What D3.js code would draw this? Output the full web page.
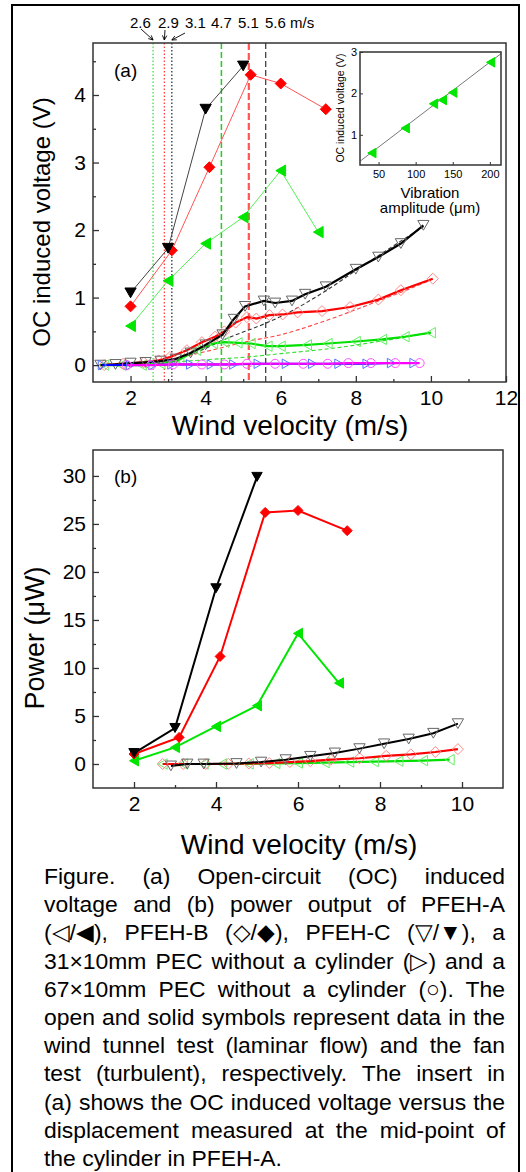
<!DOCTYPE html>
<html>
<head>
<meta charset="utf-8">
<script src="https://cdn.jsdelivr.net/npm/d3@7"></script>
<style>
body{margin:0;overflow:hidden;background:#fff;}
text{font-family:"Liberation Sans",Arial,sans-serif;fill:#000;}
</style>
</head>
<body>
<svg id="fig" width="526" height="1172"></svg>
<script>
// ---------- data ----------
// fan test (turbulent), filled symbols; x = wind velocity (m/s)
var fanA_x = [2, 3, 4, 5, 6, 7];            // PFEH-A  ◀
var fanA_v = [0.58, 1.25, 1.80, 2.19, 2.88, 1.97];
var fanA_p = [0.34, 1.73, 3.91, 6.07, 13.6, 8.43];
var fanB_x = [2, 3.1, 4.1, 5.2, 6, 7.2];     // PFEH-B  ◆
var fanB_v = [0.87, 1.70, 2.93, 4.30, 4.17, 3.79];
var fanB_p = [1.04, 2.77, 11.2, 26.2, 26.4, 24.3];
var fanC_x = [2, 3, 4, 5];                   // PFEH-C  ▼
var fanC_v = [1.07, 1.73, 3.79, 4.43];
var fanC_p = [1.14, 3.75, 18.3, 29.9];

// wind tunnel test (laminar), open symbols, panel (a)
var tunC_x = [1.2, 1.6, 2.0, 2.4, 2.8, 3.2, 3.6, 4.0, 4.45, 4.75, 5.05, 5.55, 5.85, 6.3, 6.65, 7.2, 8.0, 8.6, 9.2, 9.8];
var tunC_v = [0.0, 0.01, 0.03, 0.04, 0.06, 0.09, 0.18, 0.3, 0.45, 0.68, 0.87, 0.95, 0.92, 0.95, 1.05, 1.16, 1.42, 1.6, 1.8, 2.07];
var tunB_x = [1.3, 1.8, 2.35, 2.75, 3.05, 3.5, 3.9, 4.25, 4.5, 4.8, 5.1, 5.35, 5.7, 6.05, 6.45, 7.1, 7.85, 8.6, 9.2, 10.05];
var tunB_v = [0.0, 0.02, 0.04, 0.07, 0.12, 0.22, 0.34, 0.42, 0.5, 0.63, 0.71, 0.69, 0.74, 0.75, 0.78, 0.8, 0.86, 0.97, 1.11, 1.28];
var tunA_x = [1.3, 1.75, 2.3, 2.8, 3.3, 3.75, 4.2, 4.5, 4.85, 5.2, 5.65, 6.0, 6.7, 7.25, 8.0, 8.7, 9.3, 10.0];
var tunA_v = [0.0, 0.0, 0.0, 0.02, 0.08, 0.22, 0.32, 0.34, 0.33, 0.32, 0.28, 0.28, 0.30, 0.32, 0.35, 0.38, 0.42, 0.48];
var pec31_x = [1.25, 2.0, 2.6, 3.1, 3.6, 4.15, 4.75, 5.4, 6.15, 6.85, 7.55, 8.3, 8.95, 9.55];
var pec31_v = [0, 0, 0, 0.01, 0.01, 0.01, 0.01, 0.02, 0.02, 0.02, 0.02, 0.02, 0.03, 0.03];
var pec67_x = [1.9, 2.55, 3.13, 3.9, 4.5, 5.1, 5.85, 6.6, 7.25, 7.8, 8.4, 9.05, 9.7];
var pec67_v = [0, 0, 0.01, 0.01, 0.01, 0.02, 0.02, 0.02, 0.02, 0.03, 0.03, 0.03, 0.03];

// dashed fitted curves in panel (a)
var fitC_x = [1.3, 2, 3, 3.8, 4.5, 5.6, 6, 7.2, 8, 8.6, 9.8];
var fitC_v = [0, 0.02, 0.07, 0.2, 0.38, 0.62, 0.72, 1.1, 1.4, 1.62, 2.05];
var fitB_x = [1.3, 2, 3, 4, 5.1, 6, 7, 7.9, 8.6, 9.3, 10];
var fitB_v = [0, 0.02, 0.08, 0.2, 0.35, 0.45, 0.62, 0.8, 0.95, 1.1, 1.26];
var fitA_x = [1.3, 2, 3, 4, 5.1, 6, 7.4, 8.6, 9.5, 10];
var fitA_v = [0, 0.01, 0.04, 0.08, 0.12, 0.17, 0.25, 0.35, 0.43, 0.48];

// wind tunnel test, open symbols, panel (b) power (uW)
var tunC_bx = [2.9, 3.3, 3.7, 4.5, 5.1, 5.7, 6.3, 6.9, 7.5, 8.1, 8.7, 9.3, 9.9];
var tunC_p  = [-0.2, 0, 0, 0.05, 0.2, 0.45, 0.8, 1.15, 1.6, 2.1, 2.6, 3.2, 4.2];
var tunB_bx = [2.7, 3.2, 3.75, 4.3, 4.8, 5.3, 5.8, 6.3, 6.8, 7.5, 8.15, 8.75, 9.35, 9.9];
var tunB_p  = [0, 0, 0, 0.02, 0.05, 0.1, 0.2, 0.3, 0.45, 0.6, 0.85, 1.0, 1.25, 1.55];
var tunA_bx = [2.7, 3.2, 3.7, 4.15, 4.8, 5.45, 6.0, 6.65, 7.25, 7.85, 8.45, 9.05, 9.7];
var tunA_p  = [0, 0, 0, 0, 0.02, 0.05, 0.1, 0.15, 0.2, 0.25, 0.3, 0.35, 0.45];

// inset: OC voltage vs vibration amplitude (um)
var insetAmp = [41, 86, 124, 136, 150, 201];
var insetV   = [0.56, 1.16, 1.75, 1.84, 2.02, 2.75];
var insetFitAmp = [25, 215];
var insetFitV   = [0.36, 2.96];

// critical velocities marked by vertical lines
var critVel    = [2.6, 2.9, 3.1, 4.42, 5.15, 5.6];
var critLabels = ['2.6', '2.9', '3.1', '4.7', '5.1', '5.6 m/s'];

// ticks
var xTicksA = [2, 4, 6, 8, 10, 12], xMinorA = [3, 5, 7, 9, 11];
var yTicksA = [0, 1, 2, 3, 4], yMinorA = [0.5, 1.5, 2.5, 3.5, 4.5];
var xTicksB = [2, 4, 6, 8, 10], xMinorB = [3, 5, 7, 9];
var yTicksB = [0, 5, 10, 15, 20, 25, 30], yMinorB = [2.5, 7.5, 12.5, 17.5, 22.5, 27.5];
var xTicksI = [50, 100, 150, 200], yTicksI = [1, 2, 3];

var caption = [
  'Figure. (a) Open-circuit (OC) induced',
  'voltage and (b) power output of PFEH-A',
  '(\u25C1/\u25C0), PFEH-B (\u25C7/\u25C6), PFEH-C (\u25BD/\u25BC), a',
  '31\u00D710mm PEC without a cylinder (\u25B7) and a',
  '67\u00D710mm PEC without a cylinder (\u25CB). The',
  'open and solid symbols represent data in the',
  'wind tunnel test (laminar flow) and the fan',
  'test (turbulent), respectively. The insert in',
  '(a) shows the OC induced voltage versus the',
  'displacement measured at the mid-point of',
  'the cylinder in PFEH-A.'
];

// ---------- drawing ----------
var svg = d3.select('#fig');

// outer frame
svg.append('rect').attr('x', 12).attr('y', 5).attr('width', 507).attr('height', 1200)
  .attr('fill', 'none').attr('stroke', '#000').attr('stroke-width', 2);

var xA = d3.scaleLinear().domain([1, 12]).range([93, 506]);
var yA = d3.scaleLinear().domain([-0.25, 4.77]).range([382, 43]);
var xB = d3.scaleLinear().domain([1, 11]).range([93, 503]);
var yB = d3.scaleLinear().domain([-2.5, 32.7]).range([788, 450]);
var xI = d3.scaleLinear().domain([25, 215]).range([360, 501]);
var yI = d3.scaleLinear().domain([0.27, 3]).range([165, 52]);

function sym(type, r) {
  if (type === 'circle') return d3.symbol(d3.symbolCircle, Math.PI * r * r)();
  if (type === 'diamond') return 'M0,' + (-r) + 'L' + r + ',0L0,' + r + 'L' + (-r) + ',0Z';
  var a0 = {down: 90, left: 180, right: 0}[type];
  var pts = [0, 120, 240].map(function(d) {
    var a = (a0 + d) * Math.PI / 180;
    var px = r * Math.cos(a), py = r * Math.sin(a);
    if (type === 'down') py -= 0.25 * r;
    if (type === 'left') px += 0.25 * r;
    if (type === 'right') px -= 0.25 * r;
    return [px.toFixed(2), py.toFixed(2)];
  });
  return 'M' + pts.join('L') + 'Z';
}

function drawSeries(g, xs, ys, xs_, ys_, opt) {
  var pts = xs.map(function(d, i) { return [xs_(d), ys_(ys[i])]; });
  g.append('path').attr('d', d3.line()(pts)).attr('fill', 'none')
    .attr('stroke', opt.line).attr('stroke-width', opt.lw)
    .attr('stroke-dasharray', opt.dash || null);
  g.selectAll(null).data(pts).enter().append('path')
    .attr('transform', function(p) { return 'translate(' + p[0] + ',' + p[1] + ')'; })
    .attr('d', sym(opt.shape, opt.r))
    .attr('fill', opt.fill).attr('stroke', opt.stroke).attr('stroke-width', opt.sw || 1);
}

function drawFit(g, xs, ys, xs_, ys_, color) {
  var pts = xs.map(function(d, i) { return [xs_(d), ys_(ys[i])]; });
  g.append('path').attr('d', d3.line().curve(d3.curveMonotoneX)(pts))
    .attr('fill', 'none').attr('stroke', color).attr('stroke-width', 1.1)
    .attr('stroke-dasharray', '4,2.5');
}

function axes(g, x, y, xt, xm, yt, ym, fs, big, small) {
  var h = y.range()[0], l = x.range()[0];
  var bx = g.append('g').attr('transform', 'translate(0,' + h + ')')
    .call(d3.axisBottom(x).tickValues(xt).tickSize(-big).tickPadding(8).tickFormat(d3.format('d')));
  var bm = g.append('g').attr('transform', 'translate(0,' + h + ')')
    .call(d3.axisBottom(x).tickValues(xm).tickSize(-small).tickFormat(''));
  var ly = g.append('g').attr('transform', 'translate(' + l + ',0)')
    .call(d3.axisLeft(y).tickValues(yt).tickSize(-big).tickPadding(7).tickFormat(d3.format('d')));
  var lm = g.append('g').attr('transform', 'translate(' + l + ',0)')
    .call(d3.axisLeft(y).tickValues(ym).tickSize(-small).tickFormat(''));
  [bx, bm, ly, lm].forEach(function(a) {
    a.select('.domain').remove();
    a.selectAll('line').attr('stroke', '#333').attr('stroke-width', 1.3);
    a.selectAll('text').attr('font-size', fs).attr('font-family', '"Liberation Sans",Arial,sans-serif').attr('fill', '#000');
  });
}

function frame(g, x, y) {
  g.append('rect').attr('x', x.range()[0]).attr('y', y.range()[1])
    .attr('width', x.range()[1] - x.range()[0]).attr('height', y.range()[0] - y.range()[1])
    .attr('fill', 'none').attr('stroke', '#333').attr('stroke-width', 1.5);
}

// ===== panel (a) =====
var ga = svg.append('g');

// vertical lines at critical velocities
var vStyle = [
  {c: '#33dd33', w: 1.2, d: '1.5,2'},
  {c: '#ff3333', w: 1.2, d: '1.5,2'},
  {c: '#222', w: 1.2, d: '1.5,2'},
  {c: '#22cc22', w: 1.5, d: '6,3'},
  {c: '#ff5555', w: 2.2, d: '7,3'},
  {c: '#333', w: 1.2, d: '6,3'}
];
ga.selectAll('.vl').data(critVel).enter().append('line')
  .attr('x1', function(d) { return xA(d); }).attr('x2', function(d) { return xA(d); })
  .attr('y1', yA.range()[1]).attr('y2', yA.range()[0])
  .attr('stroke', function(d, i) { return vStyle[i].c; })
  .attr('stroke-width', function(d, i) { return vStyle[i].w; })
  .attr('stroke-dasharray', function(d, i) { return vStyle[i].d; });

// labels above
var labX = [130, 158, 185, 211, 238, 265];
ga.selectAll('.cl').data(critLabels).enter().append('text')
  .attr('x', function(d, i) { return labX[i]; }).attr('y', 28)
  .attr('font-size', 15).text(function(d) { return d; });
var arrowStart = [[141, 29], [165, 30], [185, 33]];
arrowStart.forEach(function(s, i) {
  var ex = xA(critVel[i]), ey = 40;
  var ang = Math.atan2(ey - s[1], ex - s[0]);
  var hl = 5;
  var a1 = ang + Math.PI - 0.45, a2 = ang + Math.PI + 0.45;
  ga.append('path')
    .attr('d', 'M' + s[0] + ',' + s[1] + 'L' + ex + ',' + ey +
      'M' + (ex + hl * Math.cos(a1)) + ',' + (ey + hl * Math.sin(a1)) + 'L' + ex + ',' + ey +
      'L' + (ex + hl * Math.cos(a2)) + ',' + (ey + hl * Math.sin(a2)))
    .attr('fill', 'none').attr('stroke', '#000').attr('stroke-width', 0.9);
});

// fitted dashed curves
drawFit(ga, fitA_x, fitA_v, xA, yA, '#33dd33');
drawFit(ga, fitB_x, fitB_v, xA, yA, '#ff4444');
drawFit(ga, fitC_x, fitC_v, xA, yA, '#333');

// wind tunnel (open symbols)
drawSeries(ga, tunA_x, tunA_v, xA, yA, {line: '#00e000', lw: 2.2, shape: 'left', r: 6, fill: 'none', stroke: '#66ee66'});
drawSeries(ga, tunB_x, tunB_v, xA, yA, {line: '#ff0000', lw: 2.2, shape: 'diamond', r: 5.5, fill: 'none', stroke: '#ff8888'});
drawSeries(ga, tunC_x, tunC_v, xA, yA, {line: '#000', lw: 2.2, shape: 'down', r: 6.5, fill: 'none', stroke: '#666'});
drawSeries(ga, pec31_x, pec31_v, xA, yA, {line: '#0000ff', lw: 2, shape: 'right', r: 5.5, fill: 'none', stroke: '#5577ff'});
drawSeries(ga, pec67_x, pec67_v, xA, yA, {line: '#ff00ff', lw: 2.2, shape: 'circle', r: 4.5, fill: 'none', stroke: '#ff55ff'});

// fan test (filled symbols)
drawSeries(ga, fanA_x, fanA_v, xA, yA, {line: '#55ee55', lw: 1, shape: 'left', r: 6.5, fill: '#00e600', stroke: '#00e600'});
drawSeries(ga, fanB_x, fanB_v, xA, yA, {line: '#ff5555', lw: 1, shape: 'diamond', r: 5.5, fill: '#ff0000', stroke: '#ff0000'});
drawSeries(ga, fanC_x, fanC_v, xA, yA, {line: '#444', lw: 1, shape: 'down', r: 6.5, fill: '#000', stroke: '#000'});

axes(ga, xA, yA, xTicksA, xMinorA, yTicksA, yMinorA, 21, 6, 3);
frame(ga, xA, yA);

ga.append('text').attr('x', 114).attr('y', 77).attr('font-size', 19).text('(a)');
ga.append('text').attr('transform', 'translate(50,222) rotate(-90)')
  .attr('text-anchor', 'middle').attr('font-size', 24).text('OC induced voltage (V)');
ga.append('text').attr('x', 290).attr('y', 435).attr('text-anchor', 'middle')
  .attr('font-size', 28).text('Wind velocity (m/s)');

// ----- inset -----
var gi = svg.append('g');
gi.append('rect').attr('x', 360).attr('y', 52).attr('width', 141).attr('height', 113).attr('fill', '#fff');
var fitPts = insetFitAmp.map(function(d, i) { return [xI(d), yI(insetFitV[i])]; });
gi.append('path').attr('d', d3.line()(fitPts)).attr('stroke', '#555').attr('stroke-width', 0.8).attr('fill', 'none');
gi.selectAll(null).data(insetAmp).enter().append('path')
  .attr('transform', function(d, i) { return 'translate(' + xI(d) + ',' + yI(insetV[i]) + ')'; })
  .attr('d', sym('left', 5.5)).attr('fill', '#00e600').attr('stroke', '#00e600');
var ix = gi.append('g').attr('transform', 'translate(0,165)')
  .call(d3.axisBottom(xI).tickValues(xTicksI).tickSize(-3).tickPadding(5).tickFormat(d3.format('d')));
var iy = gi.append('g').attr('transform', 'translate(360,0)')
  .call(d3.axisLeft(yI).tickValues(yTicksI).tickSize(-3).tickPadding(3).tickFormat(d3.format('d')));
[ix, iy].forEach(function(a) {
  a.select('.domain').remove();
  a.selectAll('line').attr('stroke', '#333');
  a.selectAll('text').attr('font-size', 11).attr('font-family', '"Liberation Sans",Arial,sans-serif').attr('fill', '#000');
});
frame(gi, xI, yI);
gi.append('text').attr('transform', 'translate(344,108) rotate(-90)').attr('text-anchor', 'middle')
  .attr('font-size', 10.5).text('OC induced voltage (V)');
gi.append('text').attr('x', 430).attr('y', 198).attr('text-anchor', 'middle').attr('font-size', 15).text('Vibration');
gi.append('text').attr('x', 430).attr('y', 213).attr('text-anchor', 'middle').attr('font-size', 15).text('amplitude (\u03BCm)');

// ===== panel (b) =====
var gb = svg.append('g');
drawSeries(gb, tunA_bx, tunA_p, xB, yB, {line: '#00e000', lw: 2.2, shape: 'left', r: 6, fill: 'none', stroke: '#66ee66'});
drawSeries(gb, tunB_bx, tunB_p, xB, yB, {line: '#ff0000', lw: 2.2, shape: 'diamond', r: 5.5, fill: 'none', stroke: '#ff8888'});
drawSeries(gb, tunC_bx, tunC_p, xB, yB, {line: '#000', lw: 2, shape: 'down', r: 6.5, fill: 'none', stroke: '#666'});
drawSeries(gb, fanA_x, fanA_p, xB, yB, {line: '#00e600', lw: 2, shape: 'left', r: 6, fill: '#00e600', stroke: '#00e600'});
drawSeries(gb, fanB_x, fanB_p, xB, yB, {line: '#ff0000', lw: 2, shape: 'diamond', r: 5, fill: '#ff0000', stroke: '#ff0000'});
drawSeries(gb, fanC_x, fanC_p, xB, yB, {line: '#000', lw: 2, shape: 'down', r: 6, fill: '#000', stroke: '#000'});

axes(gb, xB, yB, xTicksB, xMinorB, yTicksB, yMinorB, 21, 6, 3);
frame(gb, xB, yB);
gb.append('text').attr('x', 114).attr('y', 483).attr('font-size', 19).text('(b)');
gb.append('text').attr('transform', 'translate(44,638) rotate(-90)')
  .attr('text-anchor', 'middle').attr('font-size', 27).text('Power (\u03BCW)');
gb.append('text').attr('x', 299).attr('y', 854).attr('text-anchor', 'middle')
  .attr('font-size', 28).text('Wind velocity (m/s)');

// ===== caption (justified lines) =====
var capW = 461, capFs = 23;
var cap = svg.append('g').selectAll('text').data(caption).enter().append('text')
  .attr('x', 44).attr('y', function(d, i) { return 884 + i * 28.2; })
  .attr('font-family', '"DejaVu Sans Condensed","DejaVu Sans",sans-serif')
  .attr('font-size', capFs).attr('fill', '#111')
  .text(function(d) { return d; });
// shrink uniformly if the widest line would not fit
var maxW = d3.max(cap.nodes(), function(n) { return n.getComputedTextLength(); });
if (maxW > capW - 4) { capFs = capFs * (capW - 4) / maxW; cap.attr('font-size', capFs); }
cap.each(function(d, i) {
  if (i === caption.length - 1) return;
  var w = this.getComputedTextLength();
  var gaps = d.split(' ').length - 1;
  if (w < capW && gaps > 0) d3.select(this).attr('word-spacing', (capW - w) / gaps);
});
</script>
</body>
</html>
